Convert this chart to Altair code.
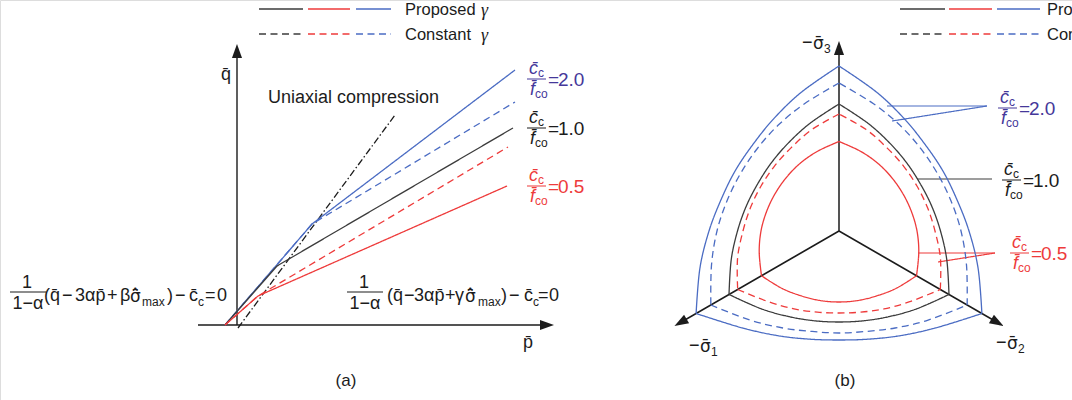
import altair as alt
import numpy as np
import pandas as pd

# ------------------------------------------------------------------ styles
INK = "#1c1c1c"
DARK = "#3c3c3c"
RED = "#ee3b3b"
BLUE = "#4b6cc3"
PURPLE = "#45389a"
SANS = "Liberation Sans"
MATH = "DejaVu Sans"      # stacks the bar and hat over sigma cleanly
SERIF = "Liberation Serif"
W, H = 1072, 400          # sheet size; every position below is in sheet units (y downward)

# ------------------------------------------------------------------ panel (a): meridian plane
A_Q_AXIS = [(237, 325), (237, 52)]
A_P_AXIS = [(198, 325), (546, 325)]
A_UNIAXIAL = [(238, 328), (395, 115)]
A_PROPOSED_20 = [(225, 325), (312, 224), (515, 70)]
A_CONSTANT_20 = [(225, 325), (312, 224), (515, 102)]
A_PROPOSED_10 = [(225, 325), (277, 266), (513, 128)]
A_CONSTANT_05 = [(225, 325), (258, 296), (508, 147)]
A_PROPOSED_05 = [(225, 325), (258, 296), (507, 186)]

# ------------------------------------------------------------------ panel (b): deviatoric plane
B_CENTER = (839, 231)
B_AXIS_ANGLES = [90, 210, 330]        # -sigma3, -sigma1, -sigma2 directions (deg)
B_AXIS_LEN = 182
B_ARROW_AT = 183                      # centre of the arrow head along the axis
B_PSI = [0, 15, 30, 45, 60]           # angle from the middle of a sector (deg)
# radius of each trace at B_PSI; "up" = two upper sectors, "low" = bottom sector
B_PROP_20_UP = [120, 122, 130, 144, 165]
B_PROP_20_LOW = [109, 112, 121, 137, 165]
B_CONST_20_UP = [114, 116, 122, 132, 148]
B_CONST_20_LOW = [102, 104, 112, 126, 148]
B_PROP_10_UP = [94, 96, 101.5, 111.6, 127]
B_PROP_10_LOW = [91, 93, 99, 110, 127]
B_CONST_05_UP = [90, 91.5, 96, 105, 117]
B_CONST_05_LOW = [82, 84, 90, 100, 117]
B_PROP_05_UP = [74, 75, 78, 82.6, 89.5]
B_PROP_05_LOW = [71, 72, 75, 81, 89.5]

B_LEADER_20 = [[(887, 106), (987, 106)], [(892, 121), (987, 106)]]
B_LEADER_10 = [[(917, 179), (992, 179)]]
B_LEADER_05 = [[(918, 253), (995, 253)], [(938, 262), (995, 253)]]

LEGEND_SEGMENTS = [(259, 303, DARK), (308, 350, RED), (356, 391, BLUE)]
LEGEND_SEGMENTS_B = [(900, 945, DARK), (949, 992, RED), (997, 1040, BLUE)]
LEGEND_ROWS = [(9, "solid", "Proposed"), (34, "dash", "Constant")]

# ------------------------------------------------------------------ build tables
seg_rows, curve_rows, text_rows, arrow_rows = [], [], [], []


def seg(pts, color, dash="solid", width=1.3):
    sid = len({r["id"] for r in seg_rows})
    for i, (x, y) in enumerate(pts):
        seg_rows.append(dict(id=f"s{sid}", i=i, x=x, y=y, color=color, dash=dash, w=width))


def txt(t, x, y, size=18, color=INK, italic=False, align="left", font=SANS):
    text_rows.append(dict(t=t, x=x, y=y, size=size, color=color, font=font,
                          style="italic" if italic else "normal", align=align))


def ratio_label(x, ybar, value, color):
    txt("c\u0304", x + 2, ybar - 10, 18, color, italic=True)
    txt("c", x + 11, ybar - 6, 12, color)
    txt("f\u0304", x + 3, ybar + 11, 18, color, italic=True)
    txt("co", x + 8, ybar + 15, 12, color)
    seg([(x, ybar), (x + 19, ybar)], color, width=1.1)
    txt("=", x + 21, ybar + 1, 19, color)
    txt(value, x + 31, ybar + 1, 19, color)


def formula(pieces, frac_x, ybase, color=INK):
    # 1 / (1 - alpha) in front of the bracket
    txt("1", frac_x + 17, ybase - 13, 18, color, align="center")
    seg([(frac_x, ybase - 4), (frac_x + 36, ybase - 4)], color, width=1.1)
    txt("1−α", frac_x + 18, ybase + 8, 18, color, align="center")
    for t, x, kind in pieces:
        if kind == "sub":
            txt(t, x, ybase + 6, 12, color)
        elif kind == "math":
            txt(t, x, ybase + 1, 17, color, font=MATH)
        else:
            txt(t, x, ybase, 18, color)


SIGMA_MAX = "σ\u0304\u0302"

# panel (a) axes and traces
seg(A_Q_AXIS, INK, width=1.4)
seg(A_P_AXIS, INK, width=1.4)
seg(A_UNIAXIAL, INK, "dashdot", 1.3)
seg(A_PROPOSED_20, BLUE)
seg(A_CONSTANT_20, BLUE, "dash")
seg(A_PROPOSED_10, DARK)
seg(A_CONSTANT_05, RED, "dash")
seg(A_PROPOSED_05, RED)
arrow_rows.append(dict(x=237, y=51, ang=0))
arrow_rows.append(dict(x=547, y=325, ang=90))

# legends
for y, dash, label in LEGEND_ROWS:
    for x0, x1, c in LEGEND_SEGMENTS:
        seg([(x0, y), (x1, y)], c, dash)
    txt(label, 405, y + 1, 16.5)
    txt("γ", 481, y + 2, 18, italic=True, font=SERIF)
    for x0, x1, c in LEGEND_SEGMENTS_B:
        seg([(x0, y), (x1, y)], c, dash)
    txt(label, 1047, y + 1, 16.5)

# panel (a) text
txt("q\u0304", 221, 75, 18)
txt("p\u0304", 523, 343, 18)
txt("Uniaxial compression", 268, 98, 18)
ratio_label(527, 79, "2.0", PURPLE)
ratio_label(527, 128, "1.0", INK)
ratio_label(527, 186, "0.5", RED)
formula([("(q\u0304", 44, ""), ("−", 62, ""), ("3αp\u0304", 75, ""), ("+", 107, ""),
         ("β", 120, ""), (SIGMA_MAX, 130, "math"), ("max", 142, "sub"), (")", 167, ""), ("−", 175, ""),
         ("c\u0304", 189, ""), ("c", 198, "sub"), ("=", 205, ""), ("0", 217, "")],
        10, 296)
formula([("(q\u0304", 387, ""), ("−", 404, ""), ("3αp\u0304", 414, ""), ("+", 445, ""),
         ("γ", 455, ""), (SIGMA_MAX, 465, "math"), ("max", 478, "sub"), (")", 501, ""), ("−", 509, ""),
         ("c\u0304", 524, ""), ("c", 533, "sub"), ("=", 538, ""), ("0", 549, "")],
        347, 296)
txt("(a)", 346, 381, 17, align="center")
txt("(b)", 845, 381, 17, align="center")

# panel (b) axes
cx, cy = B_CENTER
for ang in B_AXIS_ANGLES:
    a = np.radians(ang)
    seg([(cx, cy), (cx + B_AXIS_LEN * np.cos(a), cy - B_AXIS_LEN * np.sin(a))], INK, width=1.5)
    arrow_rows.append(dict(x=cx + B_ARROW_AT * np.cos(a), y=cy - B_ARROW_AT * np.sin(a), ang=(90 - ang) % 360))
for (lx, ly), sub in [((802, 43), "3"), ((689, 346), "1"), ((996, 343), "2")]:
    txt("−", lx, ly, 18)
    txt("σ\u0304", lx + 11, ly + 1, 17, font=MATH)
    txt(sub, lx + 22, ly + 6, 12)

# panel (b) traces
traces = [("p20", BLUE, "solid", B_PROP_20_UP, B_PROP_20_LOW),
          ("c20", BLUE, "dash", B_CONST_20_UP, B_CONST_20_LOW),
          ("p10", DARK, "solid", B_PROP_10_UP, B_PROP_10_LOW),
          ("c05", RED, "dash", B_CONST_05_UP, B_CONST_05_LOW),
          ("p05", RED, "solid", B_PROP_05_UP, B_PROP_05_LOW)]
for name, color, dash, up, low in traces:
    for mid, prof in [(30, up), (150, up), (270, low)]:
        k = 0
        for s in (-1, 1):
            psis = B_PSI[::-1] if s < 0 else B_PSI[1:]
            for p in psis:
                r = prof[B_PSI.index(p)]
                th = np.radians(mid + s * p)
                curve_rows.append(dict(id=f"{name}{mid}", i=k, x=cx + r * np.cos(th), y=cy - r * np.sin(th),
                                       color=color, dash=dash, w=1.3))
                k += 1

for pts in B_LEADER_20:
    seg(pts, BLUE, width=1.2)
for pts in B_LEADER_10:
    seg(pts, DARK, width=1.2)
for pts in B_LEADER_05:
    seg(pts, RED, width=1.2)
ratio_label(998, 108, "2.0", PURPLE)
ratio_label(1002, 180, "1.0", INK)
ratio_label(1010, 253, "0.5", RED)

seg_df = pd.DataFrame(seg_rows)
curve_df = pd.DataFrame(curve_rows)
text_df = pd.DataFrame(text_rows)
arrow_df = pd.DataFrame(arrow_rows)

# ------------------------------------------------------------------ chart
xs = alt.Scale(domain=[0, W], nice=False, zero=False)
ys = alt.Scale(domain=[0, H], nice=False, zero=False, reverse=True)
X = alt.X("x:Q", scale=xs, axis=None)
Y = alt.Y("y:Q", scale=ys, axis=None)
dash_scale = alt.Scale(domain=["solid", "dash", "dashdot"], range=[[1, 0], [7, 4.5], [7, 2.5, 1.5, 2.5]])


def line_layer(df, **mark):
    return alt.Chart(df).mark_line(strokeCap="butt", **mark).encode(
        x=X, y=Y, detail="id:N", order="i:Q",
        color=alt.Color("color:N", scale=None),
        strokeWidth=alt.StrokeWidth("w:Q", scale=None),
        strokeDash=alt.StrokeDash("dash:N", scale=dash_scale, legend=None),
    )


segments = line_layer(seg_df)
curves = line_layer(curve_df, interpolate="cardinal")

arrows = alt.Chart(arrow_df).mark_point(
    filled=True, opacity=1, color=INK, shape="M0,-1L-0.72,1L0.72,1Z", strokeWidth=0
).encode(x=X, y=Y, angle=alt.Angle("ang:Q", scale=None), size=alt.value(196))

# one text layer per (font, style, alignment, font size) combination
texts = []
for (font, style, align, size), df in text_df.groupby(["font", "style", "align", "size"]):
    texts.append(
        alt.Chart(df[["t", "x", "y", "color"]].reset_index(drop=True)).mark_text(
            font=font, align=align, baseline="middle", fontStyle=style, fontSize=float(size)
        ).encode(x=X, y=Y, text=alt.Text("t:N"), color=alt.Color("color:N", scale=None))
    )

chart = alt.layer(segments, curves, arrows, *texts).properties(
    width=W, height=H, padding=0, autosize=alt.AutoSizeParams(type="none")
).configure_view(stroke=None).configure(background="white")

chart.save("out.html", embed_options={"renderer": "svg", "actions": False})
